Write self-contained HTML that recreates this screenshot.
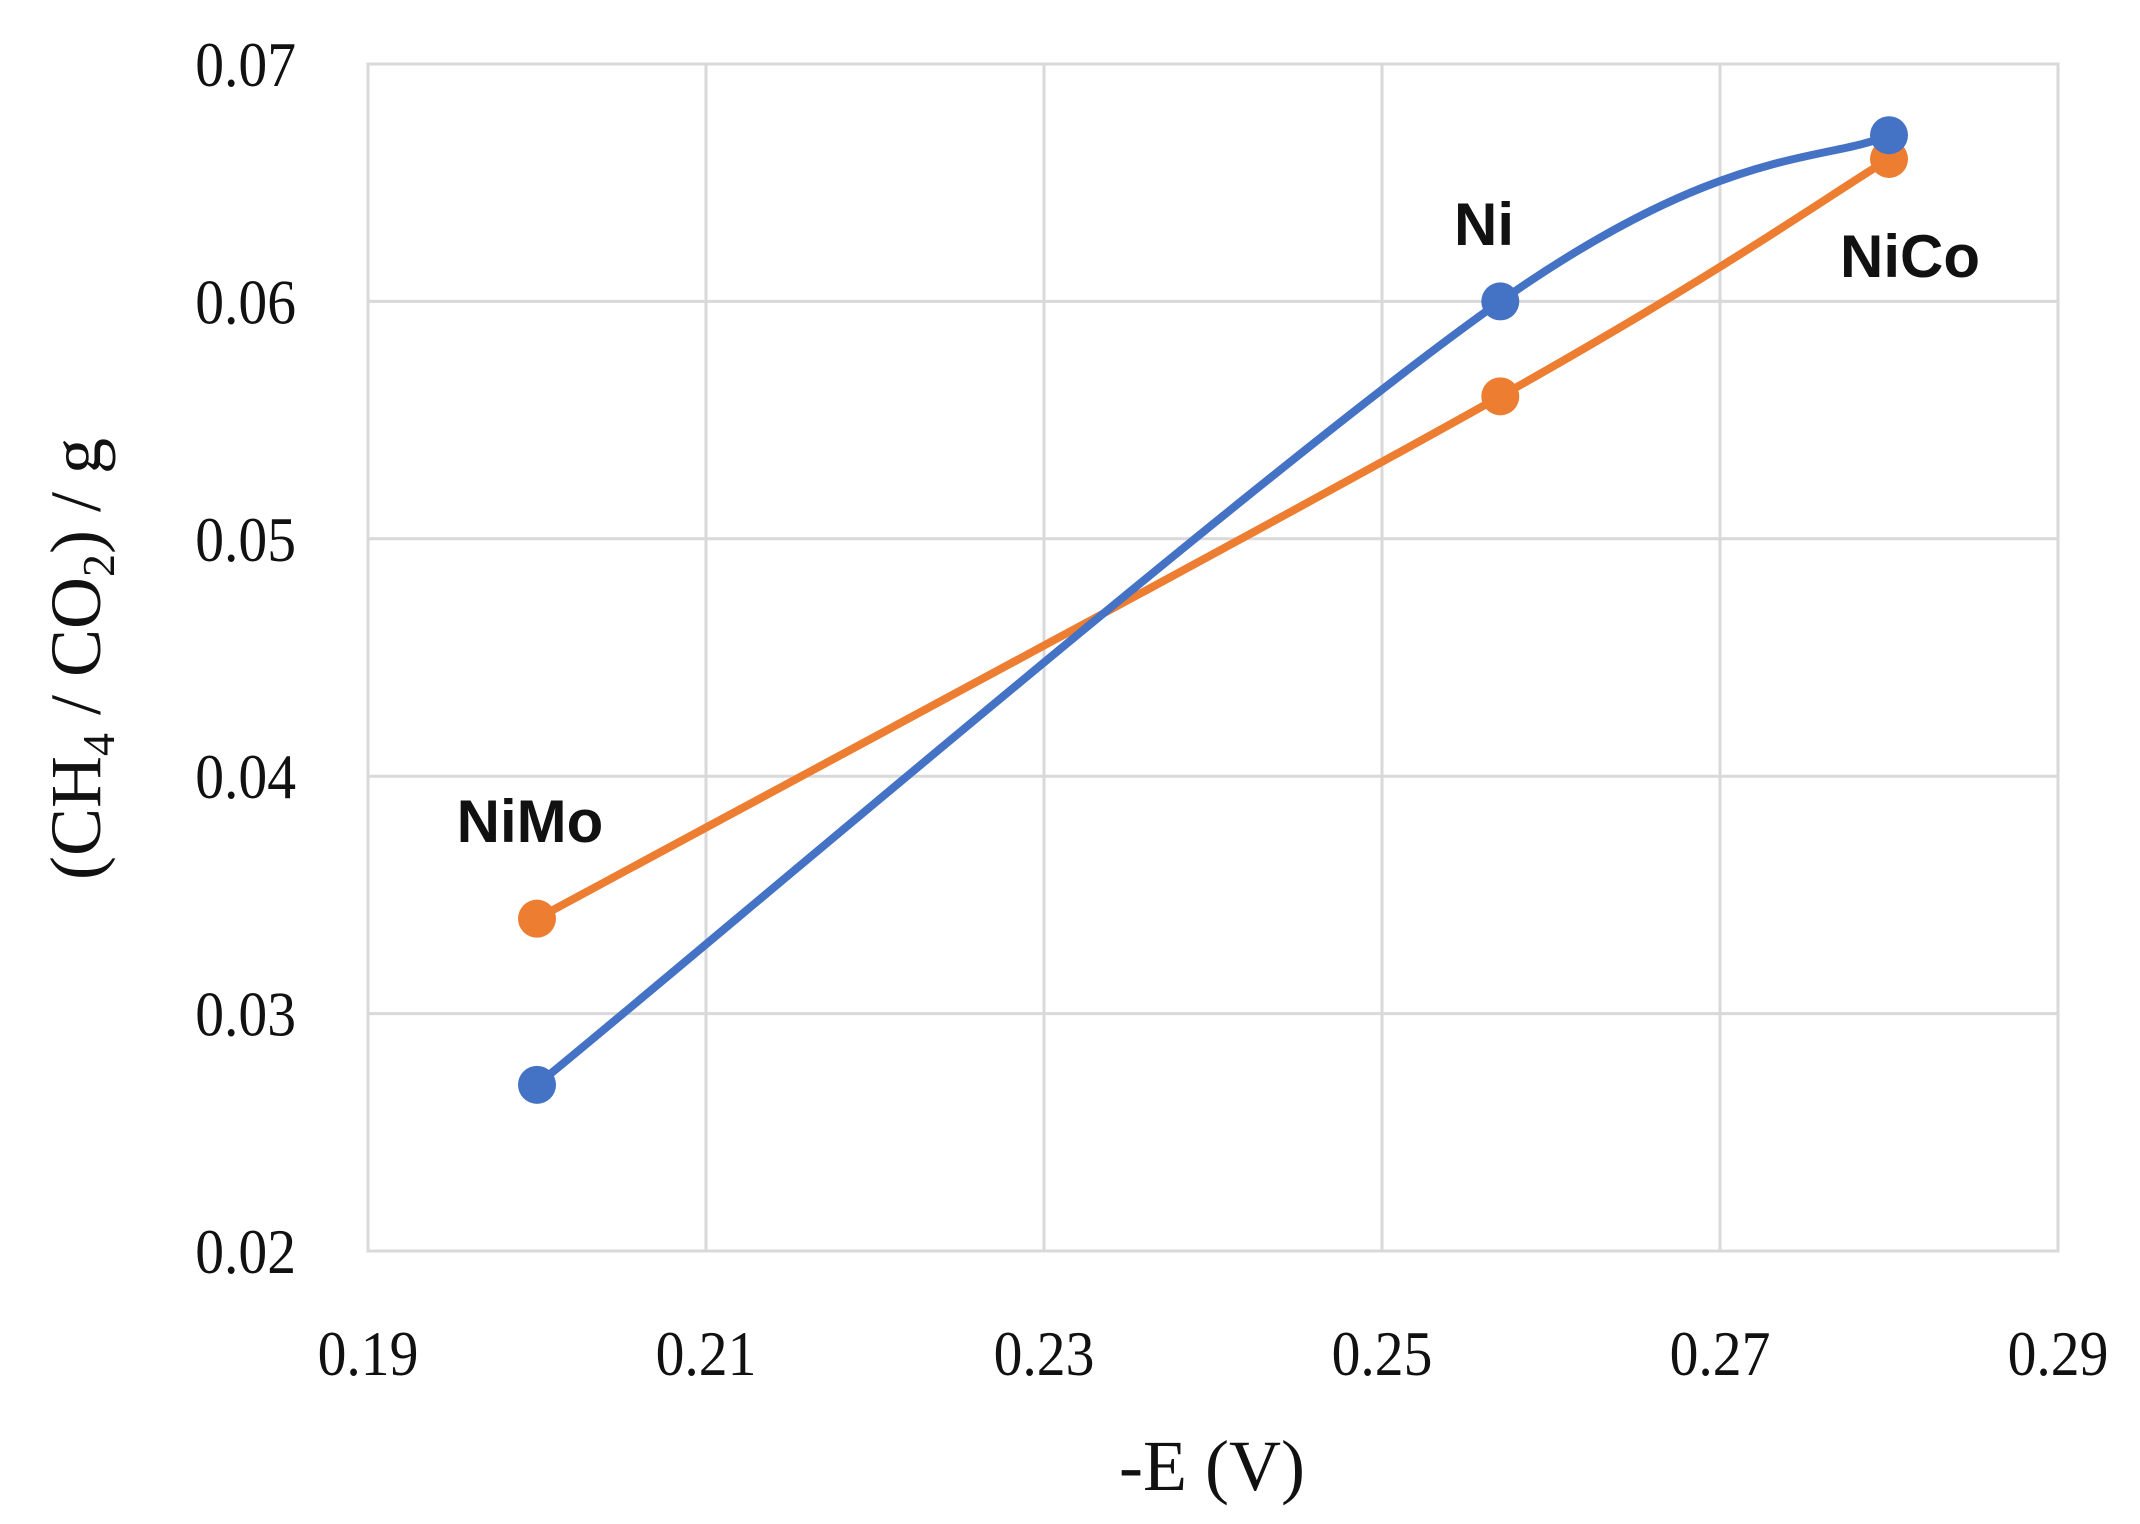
<!DOCTYPE html>
<html><head><meta charset="utf-8"><style>
html,body{margin:0;padding:0;background:#fff;}
svg{display:block;}
</style></head><body>
<svg id="chart" width="2140" height="1524" viewBox="0 0 2140 1524" xmlns="http://www.w3.org/2000/svg"></svg>
<script>
const xTicks = [0.19, 0.21, 0.23, 0.25, 0.27, 0.29];
const xTickLabels = ["0.19", "0.21", "0.23", "0.25", "0.27", "0.29"];
const yTicks = [0.02, 0.03, 0.04, 0.05, 0.06, 0.07];
const yTickLabels = ["0.02", "0.03", "0.04", "0.05", "0.06", "0.07"];
const blueX = [0.2, 0.257, 0.28];
const blueY = [0.027, 0.060, 0.067];
const orangeX = [0.2, 0.257, 0.28];
const orangeY = [0.034, 0.056, 0.066];
const pointLabels = ["NiMo", "Ni", "NiCo"];

const L = 368, R = 2058, T = 64, B = 1251;
const xMin = 0.19, xMax = 0.29, yMin = 0.02, yMax = 0.07;
function sx(v) { return L + (v - xMin) / (xMax - xMin) * (R - L); }
function sy(v) { return B - (v - yMin) / (yMax - yMin) * (B - T); }

const svg = document.getElementById('chart');
const NS = 'http://www.w3.org/2000/svg';
function mk(tag, attrs, parent) {
  const e = document.createElementNS(NS, tag);
  for (const k in attrs) e.setAttribute(k, attrs[k]);
  (parent || svg).appendChild(e);
  return e;
}

const grid = mk('g', {});


xTicks.forEach((t, i) => {
  const l = mk('line', {x1: sx(t), x2: sx(t), y1: T, y2: B, stroke: '#d9d9d9', 'stroke-width': 3}, grid);
  
  
  const tx = mk('text', {x: sx(t), y: 1375, 'text-anchor': 'middle', 'font-family': 'Liberation Serif, serif', 'font-size': 64, fill: '#111', transform: `translate(${sx(t)},0) scale(0.9,1) translate(${-sx(t)},0)`});
  tx.textContent = xTickLabels[i];
  
  
});
yTicks.forEach((t, i) => {
  const l = mk('line', {x1: L, x2: R, y1: sy(t), y2: sy(t), stroke: '#d9d9d9', 'stroke-width': 3}, grid);
  
  
  const tx = mk('text', {x: 296, y: sy(t) + 22, 'text-anchor': 'end', 'font-family': 'Liberation Serif, serif', 'font-size': 64, fill: '#111', transform: `translate(296,0) scale(0.9,1) translate(-296,0)`});
  tx.textContent = yTickLabels[i];
  
  
});
const frame = mk('rect', {x: L, y: T, width: R - L, height: B - T, fill: 'none', stroke: '#d9d9d9', 'stroke-width': 3});



function smoothPath(xs, ys) {
  const p = xs.map((x, i) => [sx(x), sy(ys[i])]);
  let d = `M${p[0][0]},${p[0][1]}`;
  for (let i = 0; i < p.length - 1; i++) {
    const p0 = p[i - 1] || p[i], p1 = p[i], p2 = p[i + 1], p3 = p[i + 2] || p2;
    const c1 = [p1[0] + (p2[0] - p0[0]) / 6, p1[1] + (p2[1] - p0[1]) / 6];
    const c2 = [p2[0] - (p3[0] - p1[0]) / 6, p2[1] - (p3[1] - p1[1]) / 6];
    d += ` C${c1[0]},${c1[1]} ${c2[0]},${c2[1]} ${p2[0]},${p2[1]}`;
  }
  return d;
}

function series(xs, ys, color, name) {
  const g = mk('g', {});
  
  
  const path = mk('path', {d: smoothPath(xs, ys), fill: 'none', stroke: color, 'stroke-width': 8, 'stroke-linecap': 'round'}, g);
  
  
  xs.forEach((x, i) => {
    const c = mk('circle', {cx: sx(x), cy: sy(ys[i]), r: 19, fill: color}, g);
    
    
  });
}
series(orangeX, orangeY, '#ed7d31', 'orange-series');
series(blueX, blueY, '#4472c4', 'blue-series');

const labelPos = [[530, 842], [1484, 245], [1910, 277]];
pointLabels.forEach((s, i) => {
  const t = mk('text', {x: labelPos[i][0], y: labelPos[i][1], 'text-anchor': 'middle', 'font-family': 'Liberation Sans, sans-serif', 'font-weight': 'bold', 'font-size': 60, fill: '#111'});
  t.textContent = s;
  
  
});

const xt = mk('text', {x: 1212, y: 1490, 'text-anchor': 'middle', 'font-family': 'Liberation Serif, serif', 'font-size': 72, fill: '#111'});
xt.textContent = '-E (V)';



const yt = mk('text', {x: 0, y: 0, 'text-anchor': 'middle', 'font-family': 'Liberation Serif, serif', 'font-size': 72, fill: '#111', transform: 'translate(100,659) rotate(-90)'});
yt.innerHTML = '(CH<tspan font-size="46" dy="14">4</tspan><tspan dy="-14"> / CO</tspan><tspan font-size="46" dy="14">2</tspan><tspan dy="-14">) / g</tspan>';


</script>
</body></html>
